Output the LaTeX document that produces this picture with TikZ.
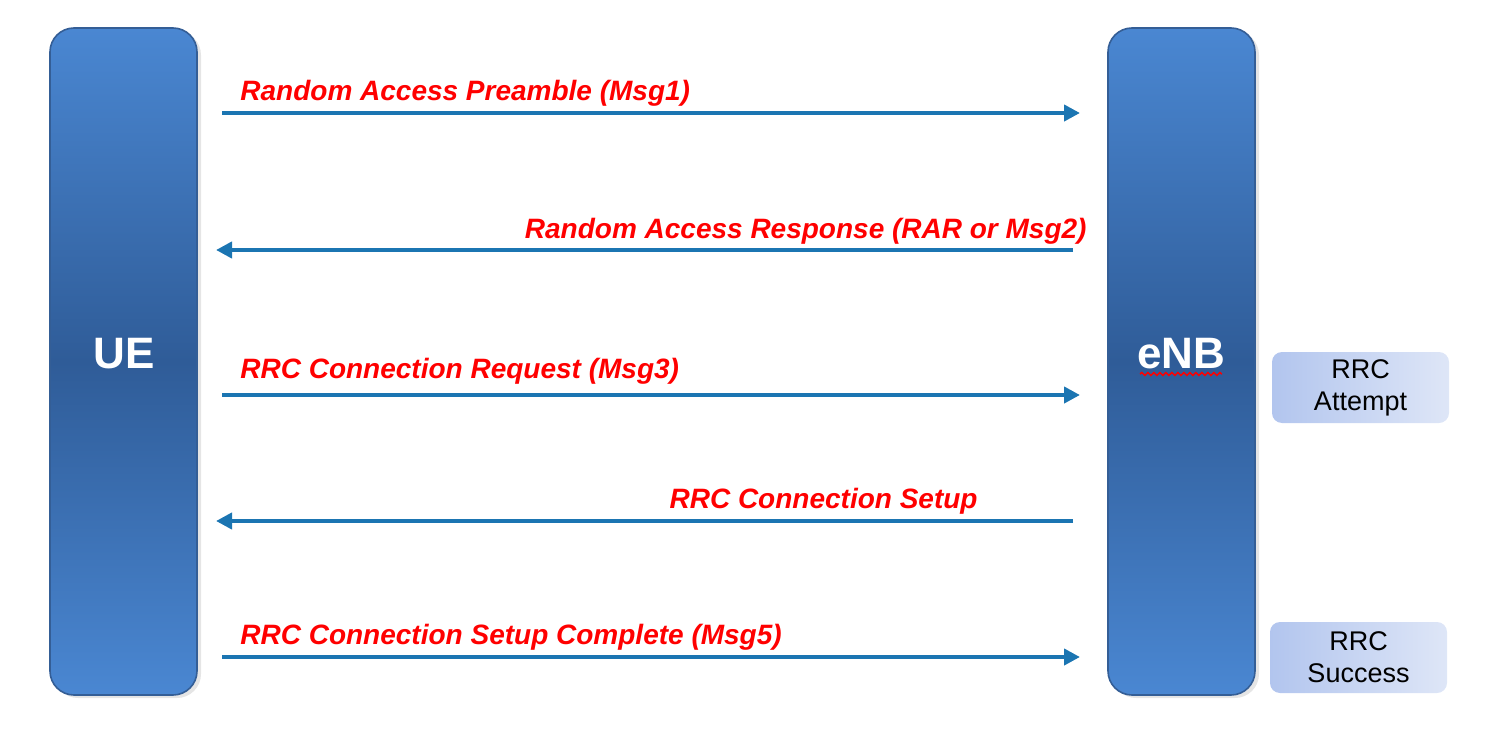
\documentclass[tikz,border=0pt]{standalone}
\usepackage{fontspec}
\setmainfont{Liberation Sans}
\usetikzlibrary{arrows.meta,decorations.pathmorphing}
\definecolor{boxtop}{RGB}{74,135,210}
\definecolor{boxmid}{RGB}{47,92,152}
\definecolor{boxedge}{RGB}{52,94,150}
\definecolor{arrowblue}{RGB}{27,117,178}
\definecolor{lblred}{RGB}{255,0,0}
\definecolor{tagleft}{RGB}{178,197,238}
\definecolor{tagright}{RGB}{222,230,247}
\tikzset{
  x=0.5pt, y=-0.5pt,
  entity/.style={rounded corners=12pt, draw=boxedge, line width=0.8pt,
    top color=boxtop, bottom color=boxtop, middle color=boxmid},
  entitylabel/.style={text=white, font=\bfseries\fontsize{22}{26}\selectfont},
  msg/.style={draw=arrowblue, line width=2.2pt, -{Triangle[length=8pt,width=8pt]}},
  msglabel/.style={text=lblred, font=\bfseries\itshape\fontsize{14}{16}\selectfont, inner sep=0pt},
  tag/.style={rounded corners=5pt, left color=tagleft, right color=tagright,
    minimum width=88.5pt, minimum height=35.5pt, align=center, inner sep=0pt,
    font=\fontsize{13.5}{16}\selectfont},
}
\begin{document}
\begin{tikzpicture}
\useasboundingbox (0,0) rectangle (1500,744);
% shadows
\fill[gray!20, rounded corners=12pt] (54,31) rectangle (201,698);
\fill[gray!20, rounded corners=12pt] (1112,31) rectangle (1259,698);
% entities
\shade[entity] (50,28) rectangle (197,695);
\shade[entity] (1108,28) rectangle (1255,695);
\node[entitylabel] (ue) at (124,354) {UE};
\node[entitylabel] (enb) at (1181,354) {eNB};
\draw[red, line width=0.7pt, decorate, decoration={snake, amplitude=0.8pt, segment length=3pt}]
  (1140,374) -- (1222,374);
% message end points
\coordinate (u1) at (222,113); \coordinate (e1) at (1080,113);
\coordinate (e2) at (1073,250); \coordinate (u2) at (216,250);
\coordinate (u3) at (222,395); \coordinate (e3) at (1080,395);
\coordinate (e4) at (1073,521); \coordinate (u4) at (216,521);
\coordinate (u5) at (222,657); \coordinate (e5) at (1080,657);
\draw[msg] (u1) -- (e1);
\draw[msg] (e2) -- (u2);
\draw[msg] (u3) -- (e3);
\draw[msg] (e4) -- (u4);
\draw[msg] (u5) -- (e5);
% labels
\node[msglabel, anchor=base west] (l1) at (240,100) {Random Access Preamble (Msg1)};
\node[msglabel, anchor=base east] (l2) at (1087,238) {Random Access Response (RAR or Msg2)};
\node[msglabel, anchor=base west] (l3) at (240,378) {RRC Connection Request (Msg3)};
\node[msglabel, anchor=base east] (l4) at (978,508) {RRC Connection Setup};
\node[msglabel, anchor=base west] (l5) at (240,644) {RRC Connection Setup Complete (Msg5)};
% status tags
\node[tag] (att) at (1360.5,387.5) {RRC\\Attempt};
\node[tag] (suc) at (1358.5,657.5) {RRC\\Success};
\end{tikzpicture}
\end{document}
